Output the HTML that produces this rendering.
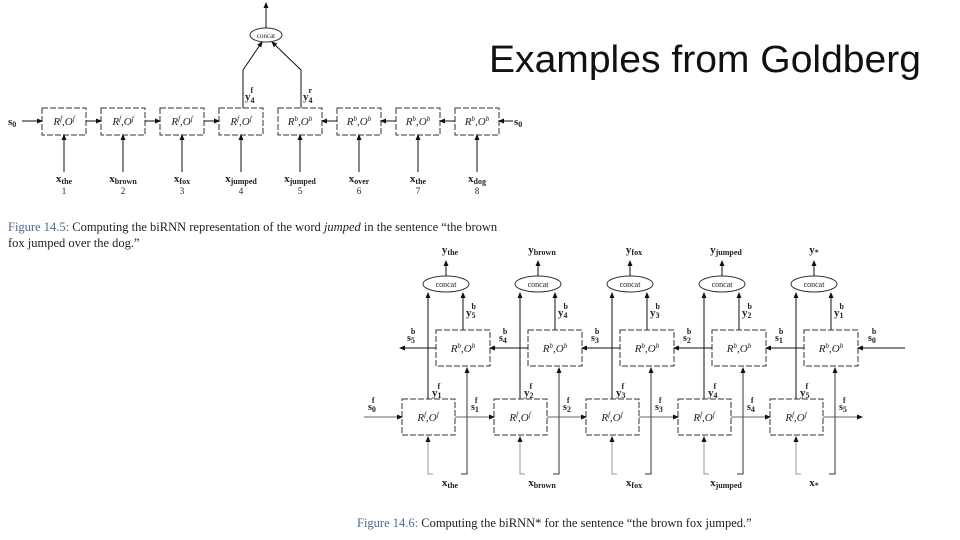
<!DOCTYPE html>
<html><head><meta charset="utf-8"><style>
html,body{margin:0;padding:0;background:#fff;}
svg{display:block;}
.t{font-family:"Liberation Serif",serif;fill:#222;}
.i{font-style:italic;}
.b{font-weight:bold;}
</style></head><body>
<svg width="960" height="540" viewBox="0 0 960 540" xmlns="http://www.w3.org/2000/svg">
<defs>
<marker id="a" markerWidth="6" markerHeight="6" refX="5" refY="3" orient="auto" markerUnits="userSpaceOnUse">
<path d="M0,0.5 L6,3 L0,5.5 z" fill="#111"/></marker>
</defs>
<text x="489" y="72" font-family="Liberation Sans, sans-serif" font-size="38" fill="#111" textLength="432" lengthAdjust="spacingAndGlyphs">Examples from Goldberg</text>

<!-- TOP FIGURE -->
<g stroke="#333" stroke-width="1" fill="none">
<rect x="42" y="108" width="44" height="27" stroke-dasharray="6 2"/>
<rect x="101" y="108" width="44" height="27" stroke-dasharray="6 2"/>
<rect x="160" y="108" width="44" height="27" stroke-dasharray="6 2"/>
<rect x="219" y="108" width="44" height="27" stroke-dasharray="6 2"/>
<rect x="278" y="108" width="44" height="27" stroke-dasharray="6 2"/>
<rect x="337" y="108" width="44" height="27" stroke-dasharray="6 2"/>
<rect x="396" y="108" width="44" height="27" stroke-dasharray="6 2"/>
<rect x="455" y="108" width="44" height="27" stroke-dasharray="6 2"/>
<ellipse cx="266" cy="35" rx="16" ry="7"/>
</g>
<g stroke="#111" stroke-width="1" fill="none" marker-end="url(#a)">
<line x1="22" y1="121" x2="42" y2="121"/>
<line x1="86" y1="121" x2="101" y2="121"/>
<line x1="145" y1="121" x2="160" y2="121"/>
<line x1="204" y1="121" x2="219" y2="121"/>
<line x1="337" y1="121" x2="322" y2="121"/>
<line x1="396" y1="121" x2="381" y2="121"/>
<line x1="455" y1="121" x2="440" y2="121"/>
<line x1="513" y1="121" x2="499" y2="121"/>
<line x1="64" y1="172" x2="64" y2="135"/>
<line x1="123" y1="172" x2="123" y2="135"/>
<line x1="182" y1="172" x2="182" y2="135"/>
<line x1="241" y1="172" x2="241" y2="135"/>
<line x1="300" y1="172" x2="300" y2="135"/>
<line x1="359" y1="172" x2="359" y2="135"/>
<line x1="418" y1="172" x2="418" y2="135"/>
<line x1="477" y1="172" x2="477" y2="135"/>
<polyline points="243,108 243,70 262,42"/>
<polyline points="301,108 301,70 272,42"/>
<line x1="266" y1="28" x2="266" y2="3"/>
</g>
<g class="t" font-size="11">
<text x="8" y="125" class="b">s<tspan font-size="8" dy="2">0</tspan></text>
<text x="514" y="125" class="b">s<tspan font-size="8" dy="2">0</tspan></text>
<text x="266" y="38" text-anchor="middle" font-size="7">concat</text>
<text x="245" y="100" class="b">y<tspan font-size="8" dy="3">4</tspan><tspan font-size="8" dx="-4" dy="-10">f</tspan></text>
<text x="303" y="100" class="b">y<tspan font-size="8" dy="3">4</tspan><tspan font-size="8" dx="-4" dy="-10">r</tspan></text>
<g class="i" text-anchor="middle" font-size="11">
<text x="64" y="125">R<tspan font-size="7" dy="-4">f</tspan><tspan dy="4">,O</tspan><tspan font-size="7" dy="-4">f</tspan></text>
<text x="123" y="125">R<tspan font-size="7" dy="-4">f</tspan><tspan dy="4">,O</tspan><tspan font-size="7" dy="-4">f</tspan></text>
<text x="182" y="125">R<tspan font-size="7" dy="-4">f</tspan><tspan dy="4">,O</tspan><tspan font-size="7" dy="-4">f</tspan></text>
<text x="241" y="125">R<tspan font-size="7" dy="-4">f</tspan><tspan dy="4">,O</tspan><tspan font-size="7" dy="-4">f</tspan></text>
<text x="300" y="125">R<tspan font-size="7" dy="-4">b</tspan><tspan dy="4">,O</tspan><tspan font-size="7" dy="-4">b</tspan></text>
<text x="359" y="125">R<tspan font-size="7" dy="-4">b</tspan><tspan dy="4">,O</tspan><tspan font-size="7" dy="-4">b</tspan></text>
<text x="418" y="125">R<tspan font-size="7" dy="-4">b</tspan><tspan dy="4">,O</tspan><tspan font-size="7" dy="-4">b</tspan></text>
<text x="477" y="125">R<tspan font-size="7" dy="-4">b</tspan><tspan dy="4">,O</tspan><tspan font-size="7" dy="-4">b</tspan></text>
</g>
<g class="b" text-anchor="middle">
<text x="64" y="182">x<tspan font-size="8" dy="2">the</tspan></text>
<text x="123" y="182">x<tspan font-size="8" dy="2">brown</tspan></text>
<text x="182" y="182">x<tspan font-size="8" dy="2">fox</tspan></text>
<text x="241" y="182">x<tspan font-size="8" dy="2">jumped</tspan></text>
<text x="300" y="182">x<tspan font-size="8" dy="2">jumped</tspan></text>
<text x="359" y="182">x<tspan font-size="8" dy="2">over</tspan></text>
<text x="418" y="182">x<tspan font-size="8" dy="2">the</tspan></text>
<text x="477" y="182">x<tspan font-size="8" dy="2">dog</tspan></text>
</g>
<g text-anchor="middle" font-size="9">
<text x="64" y="194">1</text><text x="123" y="194">2</text><text x="182" y="194">3</text><text x="241" y="194">4</text>
<text x="300" y="194">5</text><text x="359" y="194">6</text><text x="418" y="194">7</text><text x="477" y="194">8</text>
</g>
<text x="8" y="231" font-size="12.5"><tspan fill="#4a6a9a">Figure 14.5:</tspan> Computing the biRNN representation of the word <tspan font-style="italic">jumped</tspan> in the sentence “the brown</text>
<text x="8" y="247" font-size="12.5">fox jumped over the dog.”</text>
</g>

<!-- BOTTOM FIGURE -->
<g id="col">
<g stroke="#333" stroke-width="1" fill="none">
<ellipse cx="446" cy="284" rx="23" ry="8"/>
<rect x="436" y="330" width="54" height="36" stroke-dasharray="6 2"/>
<rect x="402" y="399" width="53" height="36" stroke-dasharray="6 2"/>
<polyline points="433,474 428,474 428,437" stroke="#999" marker-end="url(#a)"/>
<polyline points="461,474 467,474 467,368" marker-end="url(#a)"/>
</g>
<g stroke="#111" stroke-width="1" fill="none" marker-end="url(#a)">
<line x1="446" y1="276" x2="446" y2="261"/>
<line x1="428" y1="399" x2="428" y2="293"/>
<line x1="463" y1="330" x2="463" y2="293"/>
</g>
<g class="t">
<text x="446" y="287" text-anchor="middle" font-size="8">concat</text>
<text x="428" y="421" text-anchor="middle" font-size="11" class="i">R<tspan font-size="7" dy="-4">f</tspan><tspan dy="4">,O</tspan><tspan font-size="7" dy="-4">f</tspan></text>
<text x="463" y="352" text-anchor="middle" font-size="11" class="i">R<tspan font-size="7" dy="-4">b</tspan><tspan dy="4">,O</tspan><tspan font-size="7" dy="-4">b</tspan></text>
</g>
</g>
<use href="#col" x="92"/>
<use href="#col" x="184"/>
<use href="#col" x="276"/>
<use href="#col" x="368"/>
<g stroke="#111" stroke-width="1" fill="none" marker-end="url(#a)">
<line x1="436" y1="348" x2="400" y2="348"/>
<line x1="528" y1="348" x2="490" y2="348"/>
<line x1="620" y1="348" x2="582" y2="348"/>
<line x1="712" y1="348" x2="674" y2="348"/>
<line x1="804" y1="348" x2="766" y2="348"/>
<line x1="905" y1="348" x2="858" y2="348"/>
<line x1="364" y1="417" x2="402" y2="417" stroke="#666"/>
<line x1="455" y1="417" x2="494" y2="417" stroke="#666"/>
<line x1="547" y1="417" x2="586" y2="417" stroke="#666"/>
<line x1="639" y1="417" x2="678" y2="417" stroke="#666"/>
<line x1="731" y1="417" x2="770" y2="417" stroke="#666"/>
<line x1="823" y1="417" x2="862" y2="417" stroke="#666"/>
</g>
<g class="t b" font-size="11">
<text x="450" y="253" text-anchor="middle">y<tspan font-size="8" dy="2">the</tspan></text>
<text x="542" y="253" text-anchor="middle">y<tspan font-size="8" dy="2">brown</tspan></text>
<text x="634" y="253" text-anchor="middle">y<tspan font-size="8" dy="2">fox</tspan></text>
<text x="726" y="253" text-anchor="middle">y<tspan font-size="8" dy="2">jumped</tspan></text>
<text x="814" y="253" text-anchor="middle">y<tspan font-size="8" dy="2">*</tspan></text>
<text x="450" y="486" text-anchor="middle">x<tspan font-size="8" dy="2">the</tspan></text>
<text x="542" y="486" text-anchor="middle">x<tspan font-size="8" dy="2">brown</tspan></text>
<text x="634" y="486" text-anchor="middle">x<tspan font-size="8" dy="2">fox</tspan></text>
<text x="726" y="486" text-anchor="middle">x<tspan font-size="8" dy="2">jumped</tspan></text>
<text x="814" y="486" text-anchor="middle">x<tspan font-size="8" dy="2">*</tspan></text>
<!-- y^f labels -->
<text x="432" y="396">y<tspan font-size="8" dy="2">1</tspan><tspan font-size="8" dx="-4" dy="-9">f</tspan></text>
<text x="524" y="396">y<tspan font-size="8" dy="2">2</tspan><tspan font-size="8" dx="-4" dy="-9">f</tspan></text>
<text x="616" y="396">y<tspan font-size="8" dy="2">3</tspan><tspan font-size="8" dx="-4" dy="-9">f</tspan></text>
<text x="708" y="396">y<tspan font-size="8" dy="2">4</tspan><tspan font-size="8" dx="-4" dy="-9">f</tspan></text>
<text x="800" y="396">y<tspan font-size="8" dy="2">5</tspan><tspan font-size="8" dx="-4" dy="-9">f</tspan></text>
<!-- y^b labels -->
<text x="466" y="316">y<tspan font-size="8" dy="2">5</tspan><tspan font-size="8" dx="-4" dy="-9">b</tspan></text>
<text x="558" y="316">y<tspan font-size="8" dy="2">4</tspan><tspan font-size="8" dx="-4" dy="-9">b</tspan></text>
<text x="650" y="316">y<tspan font-size="8" dy="2">3</tspan><tspan font-size="8" dx="-4" dy="-9">b</tspan></text>
<text x="742" y="316">y<tspan font-size="8" dy="2">2</tspan><tspan font-size="8" dx="-4" dy="-9">b</tspan></text>
<text x="834" y="316">y<tspan font-size="8" dy="2">1</tspan><tspan font-size="8" dx="-4" dy="-9">b</tspan></text>
<!-- s^b labels -->
<text x="407" y="341" font-size="10">s<tspan font-size="8" dy="2">5</tspan><tspan font-size="8" dx="-4" dy="-9">b</tspan></text>
<text x="499" y="341" font-size="10">s<tspan font-size="8" dy="2">4</tspan><tspan font-size="8" dx="-4" dy="-9">b</tspan></text>
<text x="591" y="341" font-size="10">s<tspan font-size="8" dy="2">3</tspan><tspan font-size="8" dx="-4" dy="-9">b</tspan></text>
<text x="683" y="341" font-size="10">s<tspan font-size="8" dy="2">2</tspan><tspan font-size="8" dx="-4" dy="-9">b</tspan></text>
<text x="775" y="341" font-size="10">s<tspan font-size="8" dy="2">1</tspan><tspan font-size="8" dx="-4" dy="-9">b</tspan></text>
<text x="868" y="341" font-size="10">s<tspan font-size="8" dy="2">0</tspan><tspan font-size="8" dx="-4" dy="-9">b</tspan></text>
<!-- s^f labels -->
<text x="368" y="410" font-size="10">s<tspan font-size="8" dy="2">0</tspan><tspan font-size="8" dx="-4" dy="-9">f</tspan></text>
<text x="471" y="410" font-size="10">s<tspan font-size="8" dy="2">1</tspan><tspan font-size="8" dx="-4" dy="-9">f</tspan></text>
<text x="563" y="410" font-size="10">s<tspan font-size="8" dy="2">2</tspan><tspan font-size="8" dx="-4" dy="-9">f</tspan></text>
<text x="655" y="410" font-size="10">s<tspan font-size="8" dy="2">3</tspan><tspan font-size="8" dx="-4" dy="-9">f</tspan></text>
<text x="747" y="410" font-size="10">s<tspan font-size="8" dy="2">4</tspan><tspan font-size="8" dx="-4" dy="-9">f</tspan></text>
<text x="839" y="410" font-size="10">s<tspan font-size="8" dy="2">5</tspan><tspan font-size="8" dx="-4" dy="-9">f</tspan></text>
</g>
<text x="357" y="527" class="t" font-size="12.5"><tspan fill="#4a6a9a">Figure 14.6:</tspan> Computing the biRNN* for the sentence “the brown fox jumped.”</text>
</svg>
</body></html>
